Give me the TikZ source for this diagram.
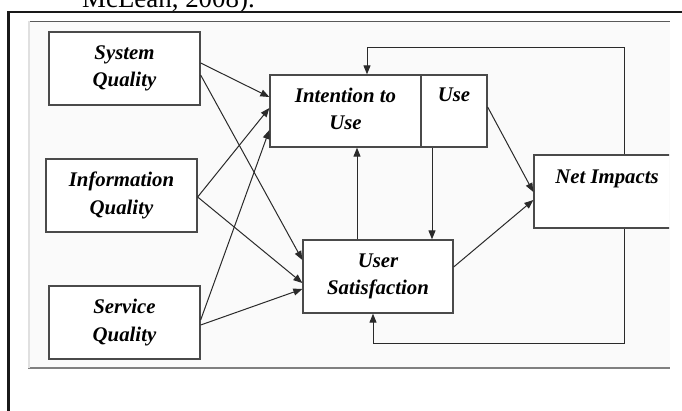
\documentclass[tikz,border=0pt]{standalone}
\usepackage{fontspec}
\setmainfont{Liberation Serif}
\usetikzlibrary{arrows.meta}
\definecolor{boxc}{HTML}{4A4A4A}
\definecolor{linec}{HTML}{2A2A2A}
\definecolor{panelc}{HTML}{FAFAFA}
\newcommand\dmfont{\fontsize{20.8}{27.5}\selectfont\bfseries\itshape}
\begin{document}
\begin{tikzpicture}[x=1pt,y=-1pt,
  box/.style={draw=boxc, line width=1.3pt, fill=white, minimum width=151pt,
    minimum height=73pt, inner sep=0pt, align=center, font=\dmfont},
  txt/.style={inner sep=0pt, font=\dmfont},
  arr/.style={draw=linec, line width=1pt, -{Triangle[length=9pt,width=7pt]}}]
\useasboundingbox (0,0) rectangle (682,410);
\clip (0,0) rectangle (682,410);
% cut-off citation text at the very top
\node[anchor=base west, inner sep=0pt, font=\fontsize{26.9}{30}\selectfont] (cite) at (82,7) {McLean, 2008).};
% outer frame
\draw[line width=2.4pt, black!90] (682,12.2) -- (8.5,12.2) -- (8.5,412);
% panel
\fill[panelc] (28,21) rectangle (670,368);
\draw[black!65, line width=1pt] (28,21) -- (670,21);
\draw[black!50, line width=1.4pt] (28,368) -- (670,368);
\draw[black!12, line width=1.5pt] (29,21) -- (29,368);
% boxes
\node[box] (sys) at (124.5,68.5) {System\\Quality};
\node[box] (inf) at (121.5,195.5) {Information\\Quality};
\node[box] (srv) at (124.5,322.5) {Service\\Quality};
\node[box, minimum height=72pt] (int) at (345.5,111) {Intention to\\Use\vphantom{y}};
\node[box, minimum width=66pt, minimum height=72pt] (use) at (454,111) {};
\node[txt, anchor=base] (usetxt) at (454,101.5) {Use};
\node[box, minimum width=150pt] (us) at (378,276.5) {User\\Satisfaction\vphantom{y}};
\begin{scope}
\clip (0,0) rectangle (669,410);
\node[box, minimum width=146pt] (net) at (607,191.5) {};
\end{scope}
\node[txt, anchor=base] (nettxt) at (607,183) {Net Impacts};
% connectors
\draw[arr] ([yshift=5.5pt]sys.east) -- ([yshift=14pt]int.west);
\draw[arr] ([yshift=-6.5pt]sys.east) -- ([yshift=16.5pt]us.west);
\draw[arr] ([yshift=-1.5pt]inf.east) -- ([yshift=3pt]int.west);
\draw[arr] ([yshift=-1.5pt]inf.east) -- ([yshift=-6.5pt]us.west);
\draw[arr] ([yshift=2.5pt]srv.east) -- ([yshift=-19pt]int.west);
\draw[arr] ([yshift=-2.5pt]srv.east) -- ([yshift=-12.5pt]us.west);
\draw[arr] ([xshift=-21pt]us.north) -- ([xshift=11.5pt]int.south);
\draw[arr] ([xshift=-22pt]use.south) -- ([xshift=54pt]us.north);
\draw[arr] ([yshift=4pt]use.east) -- ([yshift=-0.5pt]net.west);
\draw[arr] ([yshift=9.5pt]us.east) -- ([yshift=-8.5pt]net.west);
\coordinate (fbtop) at (367,47);
\coordinate (fbbot) at (373,343);
\draw[arr] ([xshift=17pt]net.north) |- (fbtop) -- ([xshift=21.5pt]int.north);
\draw[arr] ([xshift=17pt]net.south) |- (fbbot) -- ([xshift=-5pt]us.south);
\end{tikzpicture}
\end{document}
